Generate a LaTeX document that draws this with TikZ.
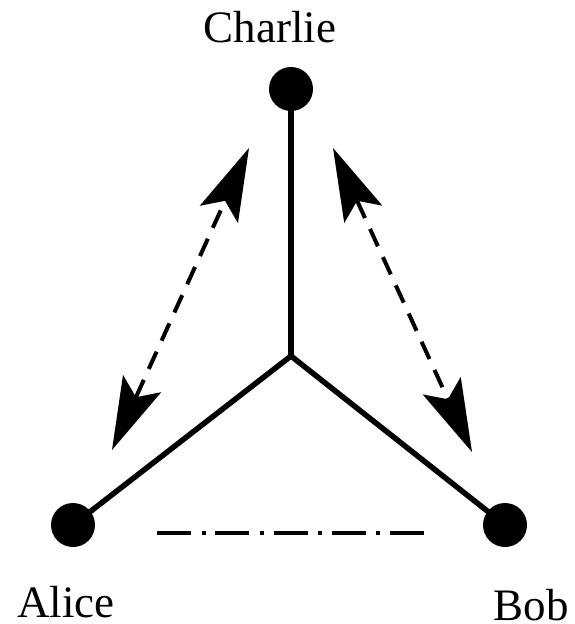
\documentclass[tikz,border=0pt]{standalone}
\usepackage{fontspec}
\setmainfont{Liberation Serif}
\usetikzlibrary{arrows.meta}
\begin{document}
\begin{tikzpicture}[x=1pt,y=-1pt,
  party/.style={circle,fill=black,minimum size=44pt,inner sep=0pt},
  lbl/.style={font=\fontsize{45}{50}\selectfont,inner sep=0pt,anchor=base,text depth=0pt},
  link/.style={line width=5.5pt},
  channel/.style={line width=4pt,dash pattern=on 19pt off 12pt,
    {Stealth[length=73pt,width=42pt,inset=15pt,line width=0pt]}-{Stealth[length=73pt,width=42pt,inset=15pt,line width=0pt]}},
  dashdot/.style={line width=4pt,dash pattern=on 34pt off 10.5pt on 4pt off 9.8pt}]
\useasboundingbox (0,0) rectangle (574,624);
\node[party] (charlie) at (291,89) {};
\node[party] (alice) at (73,525) {};
\node[party] (bob) at (505,525) {};
\coordinate (hub) at (291,356);
\draw[link] (hub) -- (charlie.center);
\draw[link] (hub) -- (alice.center);
\draw[link] (hub) -- (bob.center);
\node[lbl] (tc) at (270,42) {Charlie};
\node[lbl] (ta) at (66,617) {Alice};
\node[lbl] (tb) at (531,620) {Bob};
\coordinate (l1) at (112,450);
\coordinate (l2) at (249,148);
\coordinate (r1) at (333,148);
\coordinate (r2) at (472,452);
\draw[channel] (l1) -- (l2);
\draw[channel] (r1) -- (r2);
\coordinate (d1) at (157,533);
\coordinate (d2) at (425,533);
\draw[dashdot] (d1) -- (d2);
\end{tikzpicture}
\end{document}
